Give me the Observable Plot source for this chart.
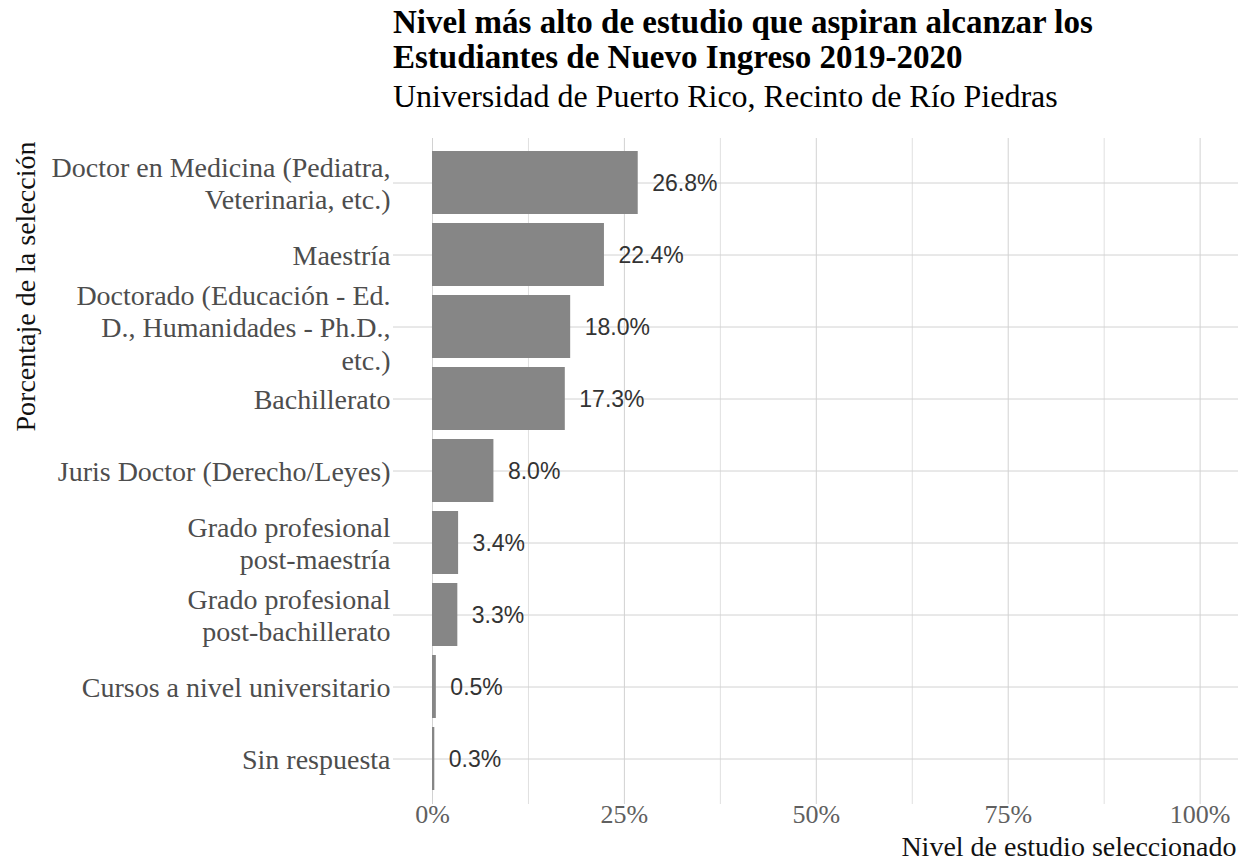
<!DOCTYPE html>
<html>
<head>
<meta charset="utf-8">
<script src="https://cdn.jsdelivr.net/npm/d3@7"></script>
<script src="https://cdn.jsdelivr.net/npm/@observablehq/plot@0.6"></script>
<style>
  html, body { margin: 0; padding: 0; background: #ffffff; }
  body { width: 1246px; height: 861px; position: relative; overflow: hidden; }
  #title { position: absolute; left: 393px; top: 5px; font-family: "Liberation Serif", "Times New Roman", serif; font-weight: bold; font-size: 33px; line-height: 35px; color: #000; white-space: nowrap; }
  #subtitle { position: absolute; left: 393px; top: 79px; font-family: "Liberation Serif", "Times New Roman", serif; font-size: 32px; line-height: 34px; color: #000; white-space: nowrap; }
  #chart { position: absolute; left: 0; top: 125px; }
</style>
</head>
<body>
<div id="title">Nivel más alto de estudio que aspiran alcanzar los<br>Estudiantes de Nuevo Ingreso 2019-2020</div>
<div id="subtitle">Universidad de Puerto Rico, Recinto de Río Piedras</div>
<div id="chart"></div>
<script>
const categories = [
  "Doctor en Medicina (Pediatra, Veterinaria, etc.)",
  "Maestría",
  "Doctorado (Educación - Ed. D., Humanidades - Ph.D., etc.)",
  "Bachillerato",
  "Juris Doctor (Derecho/Leyes)",
  "Grado profesional post-maestría",
  "Grado profesional post-bachillerato",
  "Cursos a nivel universitario",
  "Sin respuesta"
];
const tickLabels = [
  "Doctor en Medicina (Pediatra,\nVeterinaria, etc.)",
  "Maestría",
  "Doctorado (Educación - Ed.\nD., Humanidades - Ph.D.,\netc.)",
  "Bachillerato",
  "Juris Doctor (Derecho/Leyes)",
  "Grado profesional\npost-maestría",
  "Grado profesional\npost-bachillerato",
  "Cursos a nivel universitario",
  "Sin respuesta"
];
const values = [26.8, 22.4, 18.0, 17.3, 8.0, 3.4, 3.3, 0.5, 0.3];
const xTicks = [0, 25, 50, 75, 100];
const xMinorTicks = [12.5, 37.5, 62.5, 87.5];
const yTitle = "Porcentaje de la selección";
const xTitle = "Nivel de estudio seleccionado";

const data = categories.map((c, i) => ({category: c, value: values[i]}));
const labelOf = new Map(categories.map((c, i) => [c, tickLabels[i]]));

const serif = "'Liberation Serif', 'Times New Roman', serif";
const narrow = "'Liberation Sans Narrow', 'Arial Narrow', 'Liberation Sans', sans-serif";

const chart = Plot.plot({
  width: 1246,
  height: 736,
  marginLeft: 432,
  marginRight: 8,
  marginTop: 13,
  marginBottom: 57,
  style: {fontFamily: serif, background: "transparent", overflow: "visible"},
  x: {domain: [0, 105]},
  y: {domain: categories, paddingInner: 0.12, paddingOuter: 0.15},
  marks: [
    Plot.gridX(xMinorTicks, {stroke: "#e0e0e0", strokeOpacity: 1}),
    Plot.gridX(xTicks, {stroke: "#d2d2d2", strokeOpacity: 1}),
    Plot.gridY(categories, {stroke: "#d2d2d2", strokeOpacity: 1}),
    Plot.axisY({
      tickSize: 39, tickPadding: 3, stroke: "#d2d2d2", fill: "#4d4d4d",
      fontSize: 28, fontFamily: serif, lineHeight: 1.15,
      tickFormat: d => labelOf.get(d), label: null
    }),
    Plot.axisX(xTicks, {
      tickSize: 0, tickPadding: 0, fill: "#606060",
      fontSize: 26, fontFamily: serif,
      tickFormat: d => d + "%", label: null
    }),
    Plot.barX(data, {x: "value", y: "category", fill: "#868686"}),
    Plot.text(data, {
      x: "value", y: "category", text: d => d.value.toFixed(1) + "%",
      textAnchor: "start", dx: 14, dy: 1, fill: "#333333", fontSize: 23, fontFamily: narrow
    }),
    Plot.text([yTitle], {
      frameAnchor: "left", rotate: -90, textAnchor: "start",
      dx: -406, dy: -40, fontSize: 28, fontFamily: serif, fill: "#111"
    }),
    Plot.text([xTitle], {
      frameAnchor: "bottom-right", textAnchor: "end",
      dx: -2, dy: 51, fontSize: 28, fontFamily: serif, fill: "#111"
    })
  ]
});
document.getElementById("chart").appendChild(chart);
</script>
</body>
</html>
